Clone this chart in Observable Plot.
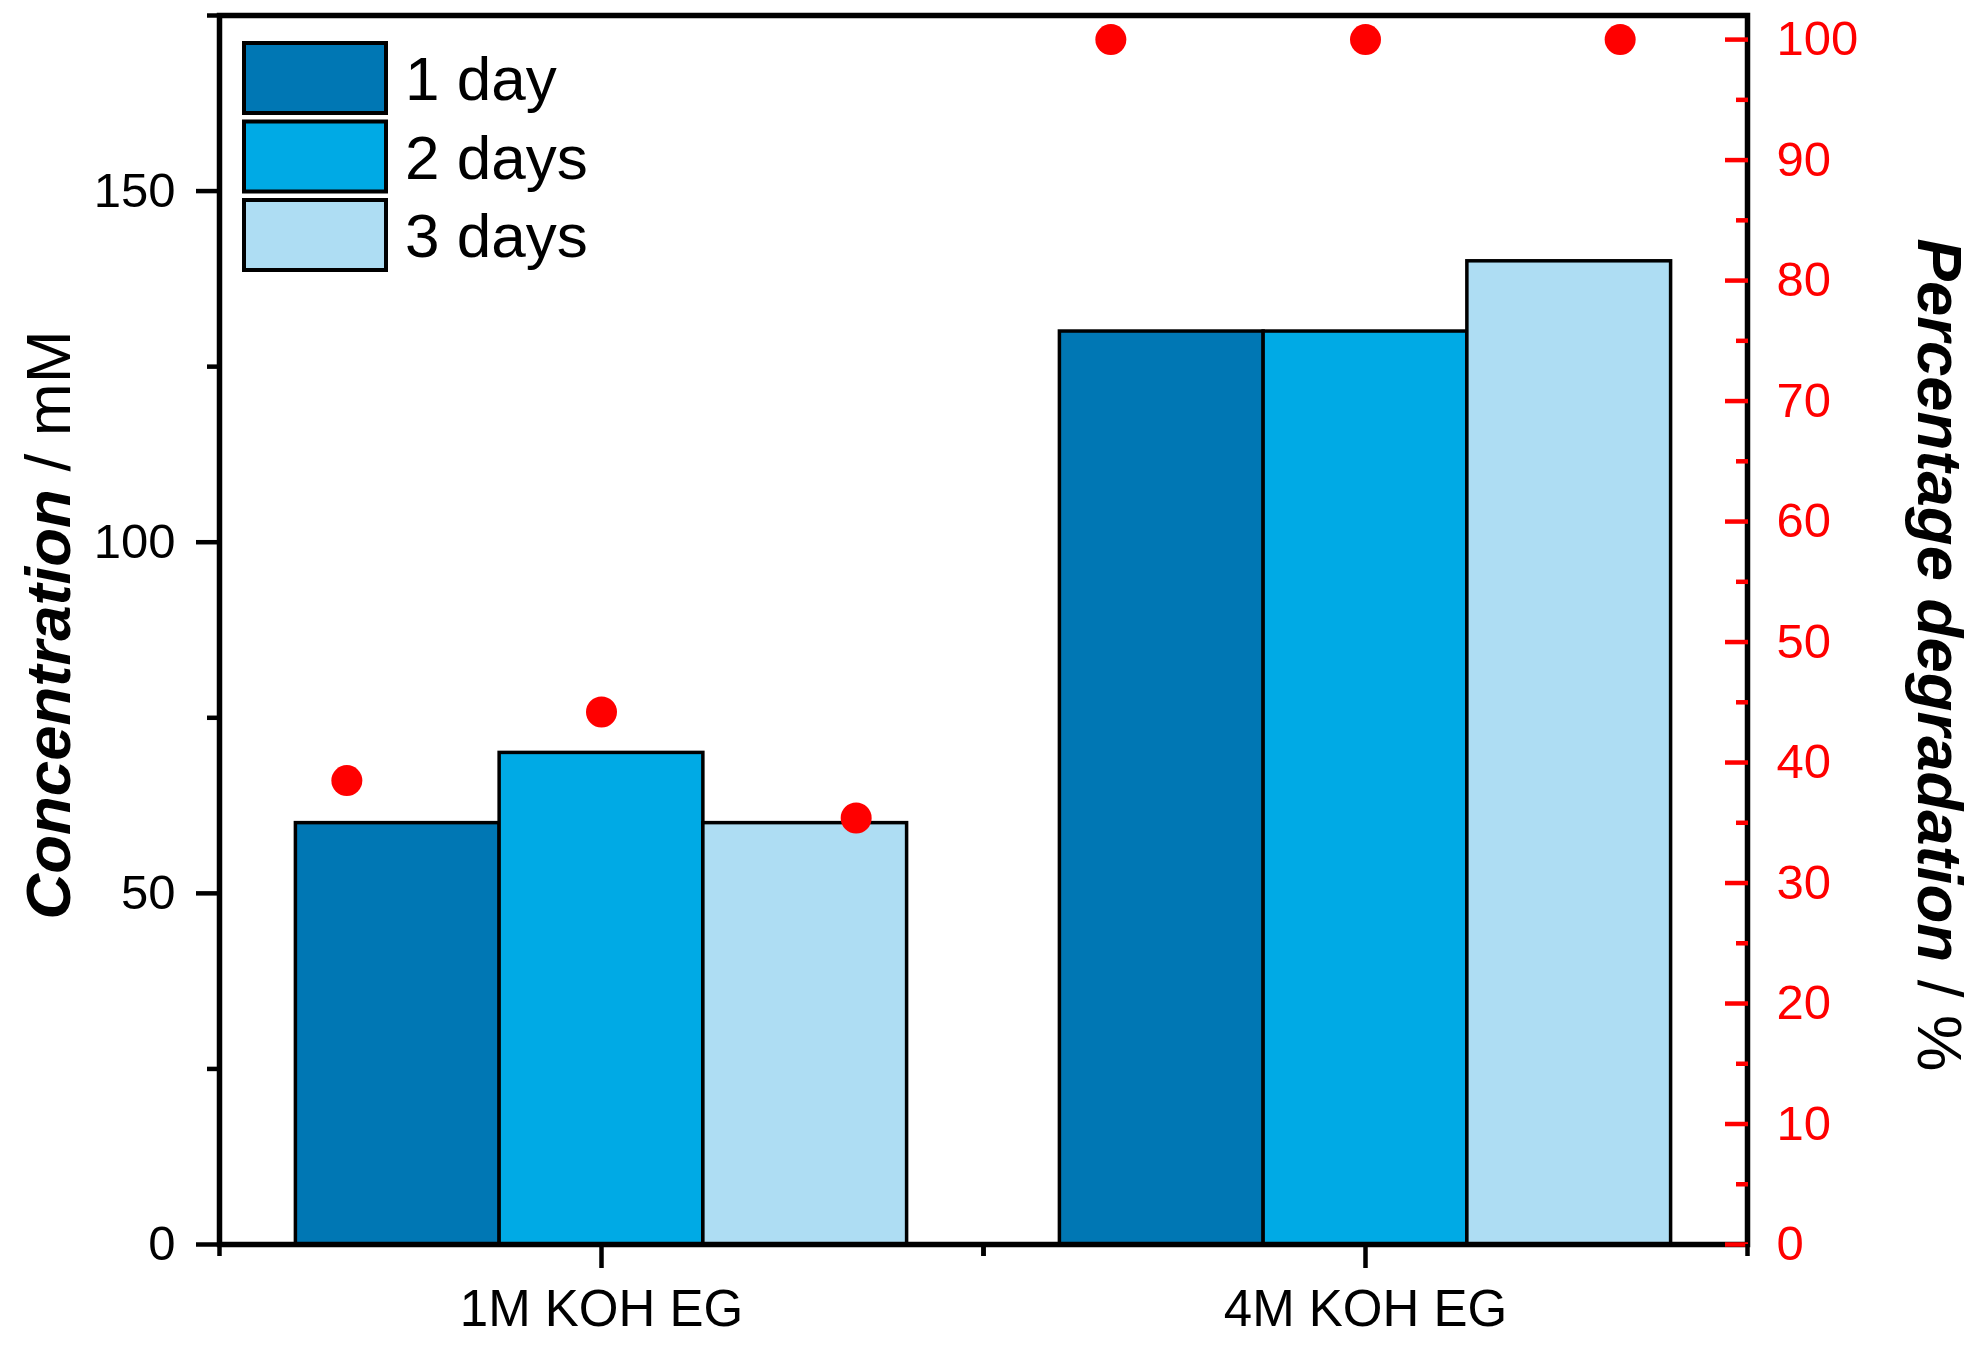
<!DOCTYPE html>
<html><head><meta charset="utf-8">
<script src="https://cdn.jsdelivr.net/npm/d3@7"></script>
<script src="https://cdn.jsdelivr.net/npm/@observablehq/plot@0.6"></script>
<style>html,body{margin:0;padding:0;background:#fff;} #chart svg{display:block}</style>
</head><body><div id="chart"></div>
<script>
// ---- data ----
const groups = ["1M KOH EG", "4M KOH EG"];
const days = ["1 day", "2 days", "3 days"];
const concentration1M = [60, 70, 60];
const concentration4M = [130, 130, 140];
const degradation1M = [38.5, 44.2, 35.4];
const degradation4M = [100, 100, 100];
const dayColors = ["#0077B4", "#00AAE5", "#AEDDF3"];
const leftTicks = [0, 50, 100, 150];
const leftMinorTicks = [25, 75, 125, 175];
const rightTicks = [0, 10, 20, 30, 40, 50, 60, 70, 80, 90, 100];
const rightMinorTicks = [5, 15, 25, 35, 45, 55, 65, 75, 85, 95];
const leftDomain = [0, 175];
const rightDomain = [0, 102];

// ---- layout ----
const W = 1984, H = 1354, mL = 219, mR = 237, mT = 15, mB = 110;
const band = (W - mL - mR) / groups.length;
const font = "'Liberation Sans', Arial, sans-serif";

const concBy = [concentration1M, concentration4M];
const pctBy = [degradation1M, degradation4M];
const rows = groups.flatMap((g, gi) => days.map((d, di) => ({
  group: g, day: d, di, conc: concBy[gi][di], pct: pctBy[gi][di]
})));

const toLeft = d3.scaleLinear(rightDomain, leftDomain);
const rightLabel = new Map(rightTicks.map(v => [toLeft(v), String(v)]));

const barMarks = days.map((d, di) => Plot.barY(rows.filter(r => r.di === di), {
  x: "group", y: "conc", fill: "day", stroke: "black", strokeWidth: 3.5,
  insetLeft: band * (0.1 + di * 0.8 / 3),
  insetRight: band * (0.9 - (di + 1) * 0.8 / 3)
}));
const dotMarks = days.map((d, di) => Plot.dot(rows.filter(r => r.di === di), {
  x: "group", y: r => toLeft(r.pct), r: 15.5, fill: "#FF0000", stroke: "none",
  dx: (di - 1) * band / 3
}));

const chart = Plot.plot({
  width: W, height: H,
  marginLeft: mL, marginRight: mR, marginTop: mT, marginBottom: mB,
  style: {fontFamily: font, background: "white", color: "black"},
  x: {domain: groups, padding: 0, axis: null},
  y: {domain: leftDomain, axis: null},
  color: {domain: days, range: dayColors},
  marks: [
    ...barMarks,
    ...dotMarks,
    Plot.frame({stroke: "black", strokeWidth: 5.5}),
    // left axis
    Plot.axisY(leftTicks, {anchor: "left", tickSize: 23, tickPadding: 21, strokeWidth: 4.5, fontSize: 49, label: null}),
    Plot.axisY(leftMinorTicks, {anchor: "left", tickSize: 12, strokeWidth: 4.5, fill: "none", label: null}),
    // right axis (inward red ticks)
    Plot.axisY(rightTicks.map(toLeft), {anchor: "right", tickSize: 23, dx: -23, stroke: "#FF0000", strokeWidth: 4.5, fill: "none", label: null}),
    Plot.axisY(rightMinorTicks.map(toLeft), {anchor: "right", tickSize: 12, dx: -12, stroke: "#FF0000", strokeWidth: 4.5, fill: "none", label: null}),
    Plot.axisY(rightTicks.map(toLeft), {anchor: "right", tickSize: 0, tickPadding: 29, fill: "#FF0000", fontSize: 49, tickFormat: v => rightLabel.get(v), label: null}),
    // x axis
    Plot.axisX(groups, {anchor: "bottom", tickSize: 24, tickPadding: 21, strokeWidth: 4.5, fontSize: 51, label: null}),
    Plot.axisX(groups, {anchor: "bottom", tickSize: 12, strokeWidth: 4.5, dx: -band / 2, fill: "none", label: null}),
    Plot.axisX(groups, {anchor: "bottom", tickSize: 12, strokeWidth: 4.5, dx: band / 2, fill: "none", label: null})
  ]
});
document.getElementById("chart").appendChild(chart);

// ---- legend & axis titles ----
const svg = d3.select(chart);
const color = chart.scale("color");
const leg = svg.append("g").attr("font-family", font).attr("text-anchor", "start");
days.forEach((d, i) => {
  const y0 = 43 + i * 78.5;
  leg.append("rect").attr("x", 244).attr("y", y0).attr("width", 142).attr("height", 70)
    .attr("fill", color.apply(d)).attr("stroke", "black").attr("stroke-width", 4);
  leg.append("text").attr("x", 405).attr("y", y0 + 35 + 22).attr("font-size", 62)
    .attr("text-anchor", "start").attr("fill", "black").text(d);
});

const lt = svg.append("text").attr("transform", "translate(70,625) rotate(-90)")
  .attr("text-anchor", "middle").attr("font-size", 63.5).attr("font-family", font).attr("fill", "black");
lt.append("tspan").attr("font-weight", "bold").attr("font-style", "italic").text("Concentration");
lt.append("tspan").text(" / mM");

const rt = svg.append("text").attr("transform", "translate(1918,655) rotate(90)")
  .attr("text-anchor", "middle").attr("font-size", 63.5).attr("font-family", font).attr("fill", "black");
rt.append("tspan").attr("font-weight", "bold").attr("font-style", "italic").text("Percentage degradation");
rt.append("tspan").text(" / %");
</script>
</body></html>
